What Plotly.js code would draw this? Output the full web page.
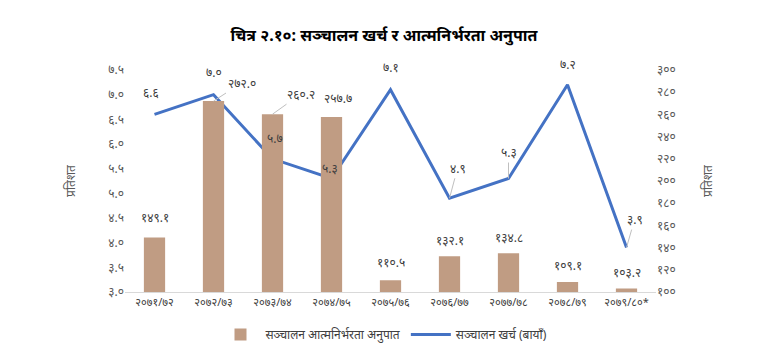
<!DOCTYPE html>
<html>
<head>
<meta charset="utf-8">
<script src="https://cdn.plot.ly/plotly-3.0.1.min.js"></script>
<style>html,body{margin:0;padding:0;background:#fff;}#chart{width:768px;height:352px;}</style>
</head>
<body>
<div id="chart"></div>
<script>
const categories = ['२०७१/७२','२०७२/७३','२०७३/७४','२०७४/७५','२०७५/७६','२०७६/७७','२०७७/७८','२०७८/७९','२०७९/८०*'];
const selfRelianceRatio = [149.1, 272.0, 260.2, 257.7, 110.5, 132.1, 134.8, 109.1, 103.2];
const operatingExpense = [6.6, 7.0, 5.7, 5.3, 7.1, 4.9, 5.3, 7.2, 3.9];
const leftTickVals = [3.0, 3.5, 4.0, 4.5, 5.0, 5.5, 6.0, 6.5, 7.0, 7.5];
const rightTickVals = [100, 120, 140, 160, 180, 200, 220, 240, 260, 280, 300];

const devDigits = ['०','१','२','३','४','५','६','७','८','९'];
function toDev(s){ return String(s).replace(/[0-9]/g, d => devDigits[+d]); }

const font = 'Noto Sans, DejaVu Sans, sans-serif';
const barColor = '#C09C83';
const lineColor = '#4472C4';

const bars = {
  type: 'bar', x: categories, y: selfRelianceRatio, yaxis: 'y2',
  name: 'सञ्चालन आत्मनिर्भरता अनुपात', marker: {color: barColor}, width: 0.36,
  hoverinfo: 'skip'
};
const line = {
  type: 'scatter', mode: 'lines', x: categories, y: operatingExpense, yaxis: 'y',
  name: 'सञ्चालन खर्च (बायाँ)', line: {color: lineColor, width: 3}, hoverinfo: 'skip'
};

// label offsets (pixels) and leader flags
const lineOff = [[-4,-22,false],[0,-22,false],[2,-20,false],[-2,-10,false],[0,-22,false],[8,-30,true],[0,-26,true],[0,-20,false],[8,-28,true]];
const barOff = [[0,-20,false],[28,-18,true],[28,-20,true],[6,-18,false],[0,-18,false],[0,-16,false],[0,-16,false],[0,-16,false],[0,-16,false]];

const annotations = [];
categories.forEach((c,i)=>{
  const lo = lineOff[i];
  annotations.push({x:c, y:operatingExpense[i], xref:'x', yref:'y', text:toDev(operatingExpense[i].toFixed(1)),
    showarrow:true, arrowhead:0, arrowwidth:1, arrowcolor: lo[2]?'#BFBFBF':'rgba(0,0,0,0)', ax:lo[0], ay:lo[1],
    font:{family:font,size:12,color:'#404040'}});
  const bo = barOff[i];
  annotations.push({x:c, y:selfRelianceRatio[i], xref:'x', yref:'y2', text:toDev(selfRelianceRatio[i].toFixed(1)),
    showarrow:true, arrowhead:0, arrowwidth:1, arrowcolor: bo[2]?'#BFBFBF':'rgba(0,0,0,0)', ax:bo[0], ay:bo[1],
    font:{family:font,size:12,color:'#404040'}});
});

const layout = {
  width: 768, height: 352,
  margin: {l:125, r:112, t:70, b:60, autoexpand:false},
  paper_bgcolor: '#fff', plot_bgcolor: '#fff',
  font: {family: font, size: 12, color: '#595959'},
  title: {text: '<b>चित्र २.१०: सञ्चालन खर्च र आत्मनिर्भरता अनुपात</b>', x: 0.5, xanchor: 'center', y: 0.9, yanchor:'middle',
          font: {family: font, size: 16, color: '#000'}},
  showlegend: true,
  legend: {orientation: 'h', x: 0.5, xanchor: 'center', xref:'container', yref:'container', y: 0.05, yanchor: 'middle',
           font: {family: font, size: 12, color:'#404040'}, itemwidth: 40},
  xaxis: {type:'category', showgrid:false, showline:true, linecolor:'#D9D9D9', linewidth:1, ticks:'', tickfont:{size:11, color:'#404040'}},
  yaxis: {range:[3.0,7.5], tickvals:leftTickVals, ticktext:leftTickVals.map(v=>toDev(v.toFixed(1))), showgrid:false, zeroline:false,
          ticks:'', ticklen:0, tickfont:{size:12,color:'#595959'},
          title:{text:'प्रतिशत', font:{size:12,color:'#595959'}, standoff: 30}},
  yaxis2: {range:[100,300], overlaying:'y', side:'right', tickvals:rightTickVals, ticktext:rightTickVals.map(v=>toDev(v)),
           showgrid:false, zeroline:false, ticks:'', tickfont:{size:12,color:'#595959'},
           title:{text:'प्रतिशत', font:{size:12,color:'#595959'}, standoff: 28}},
  bargap: 0.6,
  annotations: annotations
};

Plotly.newPlot('chart', [bars, line], layout, {displayModeBar:false, staticPlot:true});
</script>
</body>
</html>
